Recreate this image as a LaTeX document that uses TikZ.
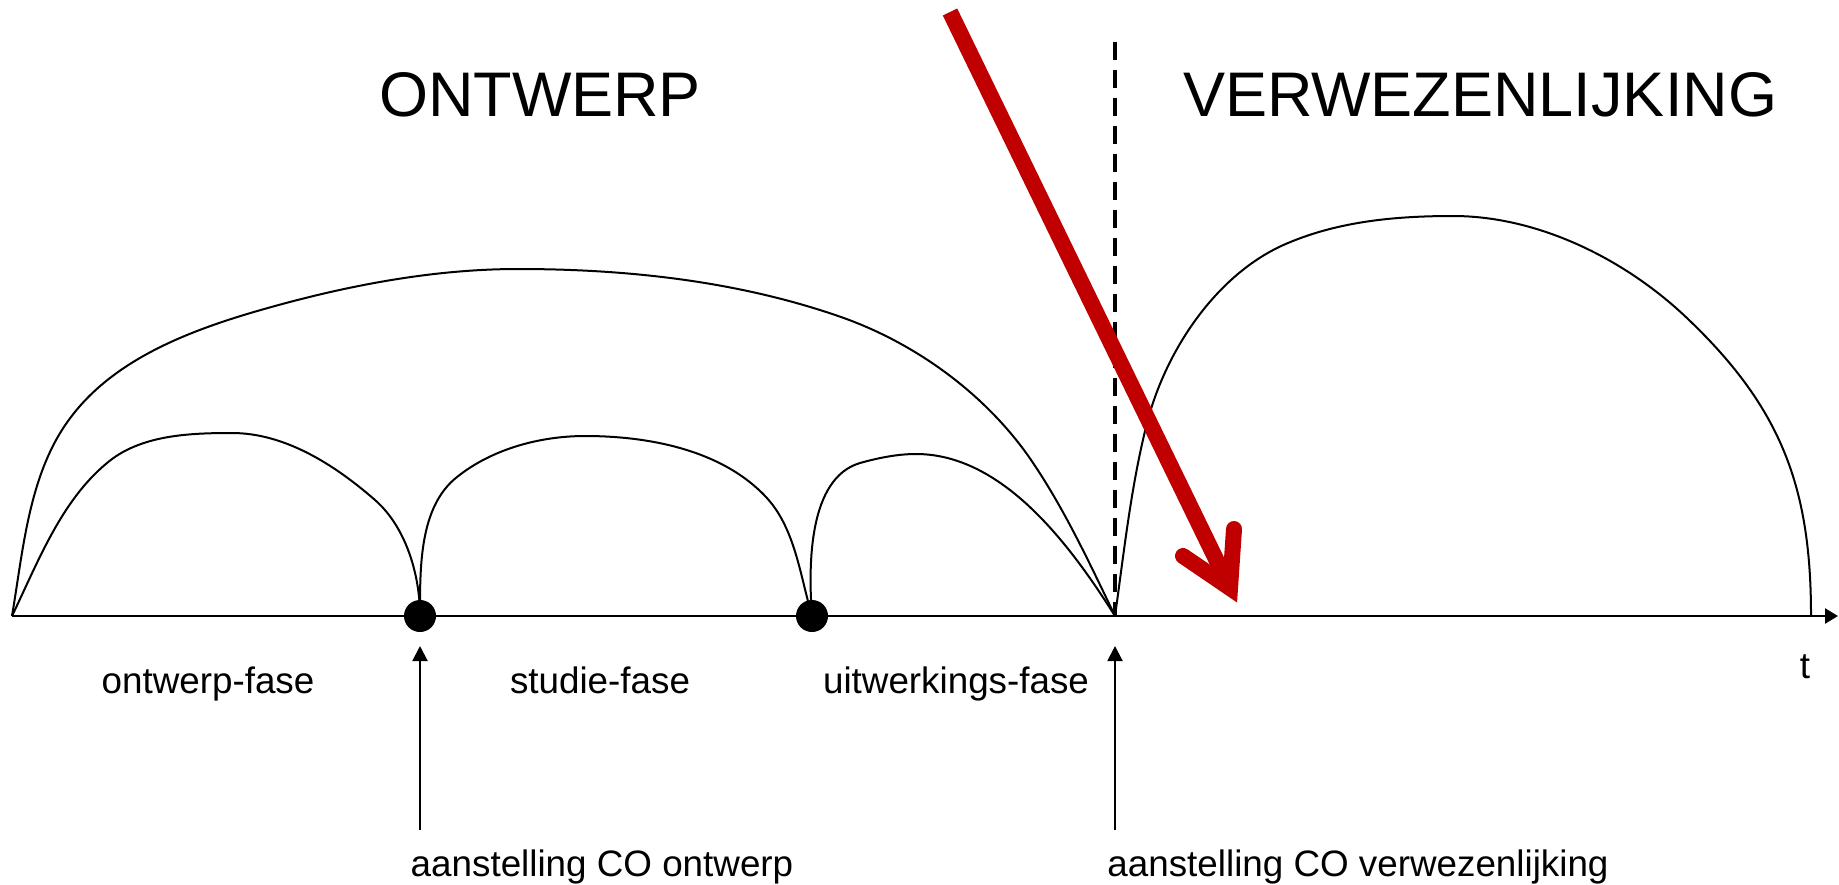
\documentclass[tikz,border=0pt]{standalone}
\usepackage{fontspec}
\setmainfont{Liberation Sans}
\usetikzlibrary{arrows.meta}
\definecolor{pijlrood}{RGB}{192,0,0}
\tikzset{
  fase/.style={anchor=base,font=\fontsize{18.4}{22}\selectfont},
  kop/.style={anchor=base,font=\fontsize{31.5}{38}\selectfont},
  boog/.style={line width=1pt},
  mijlpaal/.style={circle,fill,inner sep=0pt,minimum size=16pt},
  oppijl/.style={line width=1pt,-{Triangle[length=7.5pt,width=7.5pt]}},
}

\begin{document}
\begin{tikzpicture}[x=0.5pt,y=-0.5pt]
  \useasboundingbox (0,0) rectangle (1839,884);
  % tijdas
  \coordinate (t0) at (12,616);
  \coordinate (tend) at (1838,616);
  \coordinate (v0) at (1115,616);
  \coordinate (v1) at (1811,616);
  \coordinate (vtop) at (1115,42);
  \node[mijlpaal] (d1) at (420,616) {};
  \node[mijlpaal] (d2) at (812,616) {};
  \draw[line width=1.2pt,-{Triangle[length=6.5pt,width=7.5pt]}] (t0) -- (tend);
  \draw[line width=1.6pt,dash pattern=on 9pt off 5pt] (vtop) -- (v0);
  % bogen
  \draw[boog] (t0) .. controls (23.5,548) and (29,472) .. (71,417)
    .. controls (120,352) and (208,324) .. (286,303)
    .. controls (361,283) and (440,269) .. (518,269)
    .. controls (627,269) and (738,281) .. (841,317)
    .. controls (915,343) and (984,393) .. (1029,457)
    .. controls (1063,506) and (1089,562) .. (v0);
  \draw[boog] (t0) .. controls (38,562) and (61,501) .. (107,463)
    .. controls (140,435) and (189,433) .. (232,433)
    .. controls (285,433) and (335,465) .. (375,500)
    .. controls (406,527) and (420,575) .. (d1.center);
  \draw[boog] (d1.center) .. controls (420,568) and (419,507) .. (457,477)
    .. controls (492,449) and (540,436) .. (585,436)
    .. controls (649,436) and (722,450) .. (766,497)
    .. controls (795,528) and (800,575) .. (d2.center);
  \draw[boog] (d2.center) .. controls (808,563) and (809,478) .. (860,463)
    .. controls (878,458) and (897,454) .. (916,454)
    .. controls (1002,454) and (1069,543) .. (v0);
  \draw[boog] (v0) .. controls (1124,552) and (1131,486) .. (1147,423)
    .. controls (1166,349) and (1218,272) .. (1288,243)
    .. controls (1340,221) and (1397,216) .. (1453,216)
    .. controls (1539,216) and (1627,260) .. (1689,320)
    .. controls (1783,410) and (1811,490) .. (v1);
  % aanstellingen
  \coordinate (a1) at (420,830);
  \coordinate (a1tip) at (420,646);
  \coordinate (a2) at (1115,830);
  \coordinate (a2tip) at (1115,646);
  \draw[oppijl] (a1) -- (a1tip);
  \draw[oppijl] (a2) -- (a2tip);
  % teksten
  \node[kop] (ontwerp) at (540,116) {ONTWERP};
  \node[kop] (verwez) at (1480,116) {VERWEZENLIJKING};
  \foreach \x/\tekst [count=\i] in {208/ontwerp-fase,600/studie-fase,956/uitwerkings-fase}
    \node[fase] (fase\i) at (\x,693) {\tekst};
  \node[fase] (tijd) at (1805,678) {t};
  \node[fase] (co1) at (602,876) {aanstelling CO ontwerp};
  \node[fase] (co2) at (1358,876) {aanstelling CO verwezenlijking};
  % rode pijl
  \coordinate (rstart) at (950,12);
  \coordinate (rtip) at (1230,588);
  \coordinate (rb1) at (1183,556);
  \coordinate (rb2) at (1234,529);
  \draw[pijlrood,line width=8pt] (rstart) -- (rtip);
  \draw[pijlrood,line width=8pt,line cap=round,line join=miter] (rb1) -- (rtip) -- (rb2);
\end{tikzpicture}
\end{document}
